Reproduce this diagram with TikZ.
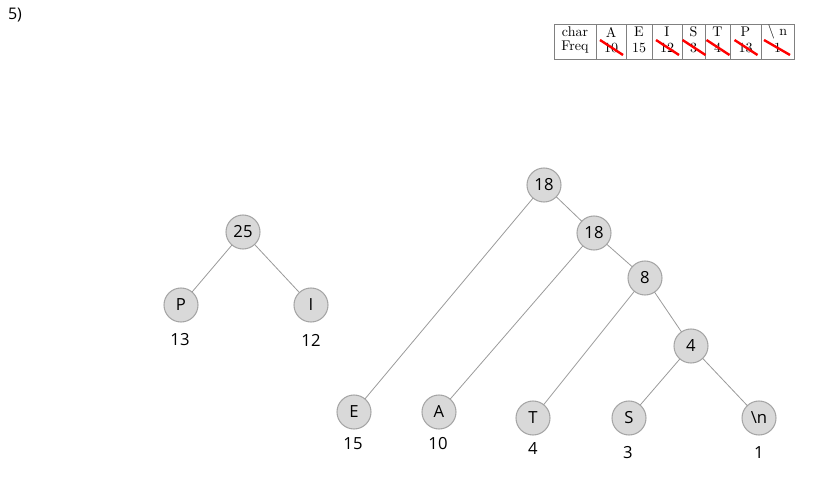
\documentclass[tikz,border=0pt]{standalone}
\usepackage{fontspec}
\newfontfamily\treefont{Open Sans}
\definecolor{cd9d9d9}{RGB}{217,217,217}
\definecolor{ca6a6a6}{RGB}{166,166,166}
\definecolor{c9a9a9a}{RGB}{154,154,154}
\definecolor{c808080}{RGB}{128,128,128}
\definecolor{cff0000}{RGB}{255,0,0}

\tikzset{
  hnode/.style={circle,draw=ca6a6a6,fill=cd9d9d9,line width=0.8pt,
    minimum size=25.5pt,font=\treefont\fontsize{12.5}{14}\selectfont},
  hedge/.style={draw=c9a9a9a,line width=0.6pt},
  hfreq/.style={font=\treefont\fontsize{12.5}{14}\selectfont},
  tcell/.style={font=\fontsize{10.5}{11}\selectfont},
  strike/.style={draw=cff0000,line width=1.8pt}
}

\begin{document}
\begin{tikzpicture}[y=0.75pt, x=0.75pt, yscale=-1, inner sep=0pt, outer sep=0pt]
  \useasboundingbox (0,0) rectangle (820,489);
  \path[fill=black] (8,22) node[above right,font=\treefont\fontsize{12}{14}\selectfont] (text5) {5)};

  % frequency table
  \path[draw=c808080,line width=0.6pt] (554,24) rectangle (794,59);
  \foreach \xc in {596,626,652,682,705,730,761}
    \path[draw=c808080,line width=0.6pt] (\xc,24) -- (\xc,59);
  \foreach \xc/\ch/\fq in {575/char/Freq,611/A/10,639/E/15,667/I/12,
      693.5/S/3,717.5/T/4,745.5/P/13,777.5/{\textbackslash\ n}/1}{
    \path (\xc,32) node[tcell] {\ch};
    \path (\xc,47.5) node[tcell] {\fq};
  }
  \foreach \xc in {611,667,693.5,717.5,745.5}
    \path[strike] (\xc-11,40) -- (\xc+12,55);
  \path[strike] (764,40) -- (790,55);

  % left tree
  \path (243,232) node[hnode] (n25) {25};
  \path (181,305) node[hnode] (nP) {P};
  \path (311,305) node[hnode] (nI) {I};
  \path (180,340) node[hfreq] (fP) {13};
  \path (311,340) node[hfreq] (fI) {12};
  \path[hedge] (n25) -- (nP);
  \path[hedge] (n25) -- (nI);

  % right tree
  \path (544,185) node[hnode] (n18a) {18};
  \path (594,233) node[hnode] (n18b) {18};
  \path (645,278) node[hnode] (n8) {8};
  \path (691,346) node[hnode] (n4) {4};
  \path (354,412) node[hnode] (nE) {E};
  \path (439,412) node[hnode] (nA) {A};
  \path (533,418) node[hnode] (nT) {T};
  \path (629,418) node[hnode] (nS) {S};
  \path (759,418) node[hnode] (nnl) {\textbackslash n};
  \path (353,444) node[hfreq] (fE) {15};
  \path (438,444) node[hfreq] (fA) {10};
  \path (533,449) node[hfreq] (fT) {4};
  \path (628,453) node[hfreq] (fS) {3};
  \path (759,453) node[hfreq] (fnl) {1};
  \path[hedge] (n18a) -- (nE);
  \path[hedge] (n18a) -- (n18b);
  \path[hedge] (n18b) -- (nA);
  \path[hedge] (n18b) -- (n8);
  \path[hedge] (n8) -- (nT);
  \path[hedge] (n8) -- (n4);
  \path[hedge] (n4) -- (nS);
  \path[hedge] (n4) -- (nnl);
\end{tikzpicture}
\end{document}
